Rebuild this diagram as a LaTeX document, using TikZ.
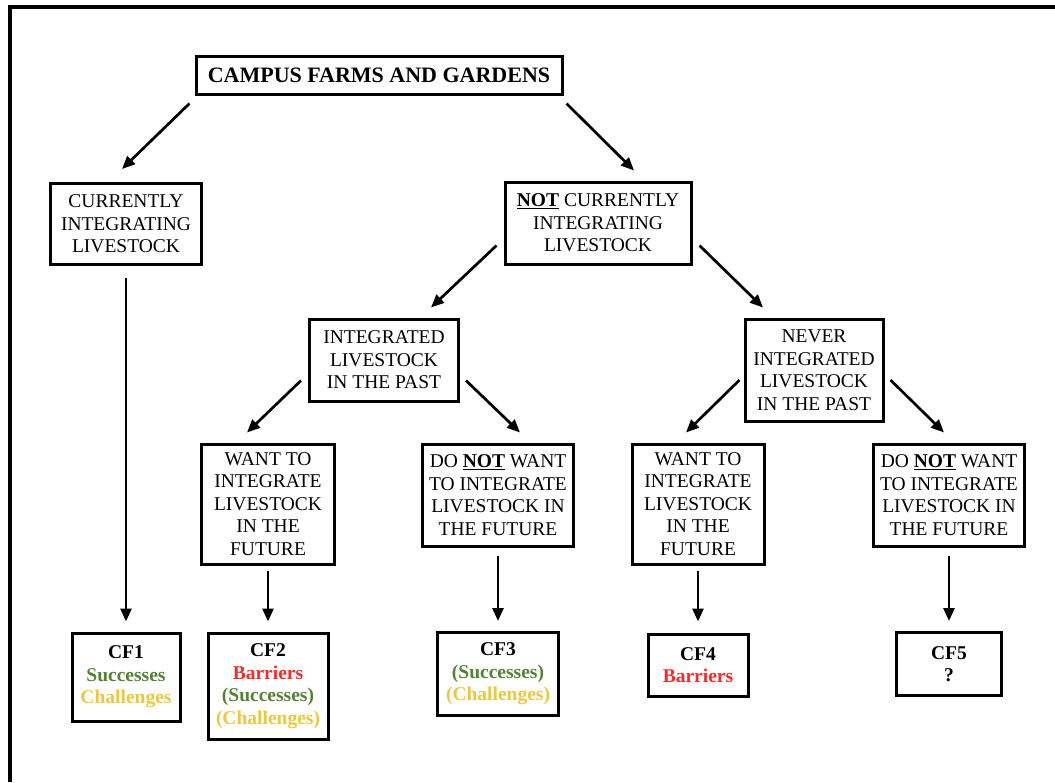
\documentclass[tikz,border=0pt]{standalone}
\usepackage{fontspec}
\setmainfont{Liberation Serif}
\usetikzlibrary{arrows.meta,calc}
\definecolor{succgreen}{RGB}{84,130,53}
\definecolor{challyellow}{RGB}{236,200,60}
\definecolor{barred}{RGB}{255,40,40}

\begin{document}
\begin{tikzpicture}[x=1pt,y=-1pt,
  box/.style={draw, line width=3pt, align=center, inner xsep=6pt, inner ysep=6pt,
    font=\fontsize{19.5}{22.5}\selectfont},
  cfbox/.style={box, font=\bfseries\fontsize{19.5}{22.5}\selectfont},
  arr/.style={-{Triangle[length=13pt,width=11pt]}, line width=2.7pt}]
\useasboundingbox (0,0) rectangle (1055,782);
\draw[line width=4pt] (10,782) -- (10,6.5) -- (1055,6.5);

\node[box, font=\bfseries\fontsize{22}{26}\selectfont, minimum width=366, minimum height=38] (farms) at (379,75) {CAMPUS FARMS AND GARDENS};
\node[box, minimum width=151, minimum height=81] (cur) at (126,224) {CURRENTLY\\INTEGRATING\\LIVESTOCK};
\node[box, minimum width=186, minimum height=82] (notcur) at (598,223) {\underline{\textbf{NOT}} CURRENTLY\\INTEGRATING\\LIVESTOCK};
\node[box, minimum width=149, minimum height=82] (past) at (384,360) {INTEGRATED\\LIVESTOCK\\IN THE PAST};
\node[box, minimum width=138, minimum height=102] (never) at (814,370) {NEVER\\INTEGRATED\\LIVESTOCK\\IN THE PAST};
\node[box, minimum width=133, minimum height=120] (wantA) at (268,504) {WANT TO\\INTEGRATE\\LIVESTOCK\\IN THE\\FUTURE};
\node[box, minimum width=151, minimum height=102] (dontA) at (498,495) {DO \underline{\textbf{NOT}} WANT\\TO INTEGRATE\\LIVESTOCK IN\\THE FUTURE};
\node[box, minimum width=132, minimum height=120] (wantB) at (698,504) {WANT TO\\INTEGRATE\\LIVESTOCK\\IN THE\\FUTURE};
\node[box, minimum width=151, minimum height=102] (dontB) at (949,495) {DO \underline{\textbf{NOT}} WANT\\TO INTEGRATE\\LIVESTOCK IN\\THE FUTURE};

% outcome boxes
\node[cfbox, minimum width=108, minimum height=88] (cf1) at (126,677) {CF1\\\textcolor{succgreen}{Successes}\\\textcolor{challyellow}{Challenges}};
\node[cfbox, minimum width=120, minimum height=106] (cf2) at (268,686) {CF2\\\textcolor{barred}{Barriers}\\\textcolor{succgreen}{(Successes)}\\\textcolor{challyellow}{(Challenges)}};
\node[cfbox, minimum width=121, minimum height=83] (cf3) at (498,674) {CF3\\\textcolor{succgreen}{(Successes)}\\\textcolor{challyellow}{(Challenges)}};
\node[cfbox, minimum width=100, minimum height=62] (cf4) at (698,665) {CF4\\\textcolor{barred}{Barriers}};
\node[cfbox, minimum width=105, minimum height=63] (cf5) at (949,664) {CF5\\?};

\draw[arr] ($(farms.south west)+(-5,8)$) -- ($(cur.north)+(-4,-13)$);
\draw[arr] ($(farms.south east)+(3,8)$) -- ($(notcur.north)+(36,-10)$);
\draw[arr] ($(cur.south)+(0,12)$) -- ($(cf1.north)+(0,-10)$);
\draw[arr] ($(notcur.south west)+(-7,-20)$) -- ($(past.north)+(47,-10)$);
\draw[arr] ($(notcur.south east)+(7,-20)$) -- ($(never.north)+(-51,-10)$);
\draw[arr] ($(past.south west)+(-7,-22)$) -- ($(wantA.north)+(-21,-10)$);
\draw[arr] ($(past.south east)+(6,-22)$) -- ($(dontA.north)+(22,-10)$);
\draw[arr] ($(never.west)+(-4,10)$) -- ($(wantB.north)+(-12,-10)$);
\draw[arr] ($(never.east)+(6,10)$) -- ($(dontB.north)+(-5,-10)$);
\draw[arr] ($(wantA.south)+(0,5)$) -- ($(cf2.north)+(0,-10)$);
\draw[arr] ($(dontA.south)+(0,8)$) -- ($(cf3.north)+(0,-10)$);
\draw[arr] ($(wantB.south)+(0,5)$) -- ($(cf4.north)+(0,-11)$);
\draw[arr] ($(dontB.south)+(0,8)$) -- ($(cf5.north)+(0,-10)$);
\end{tikzpicture}
\end{document}
